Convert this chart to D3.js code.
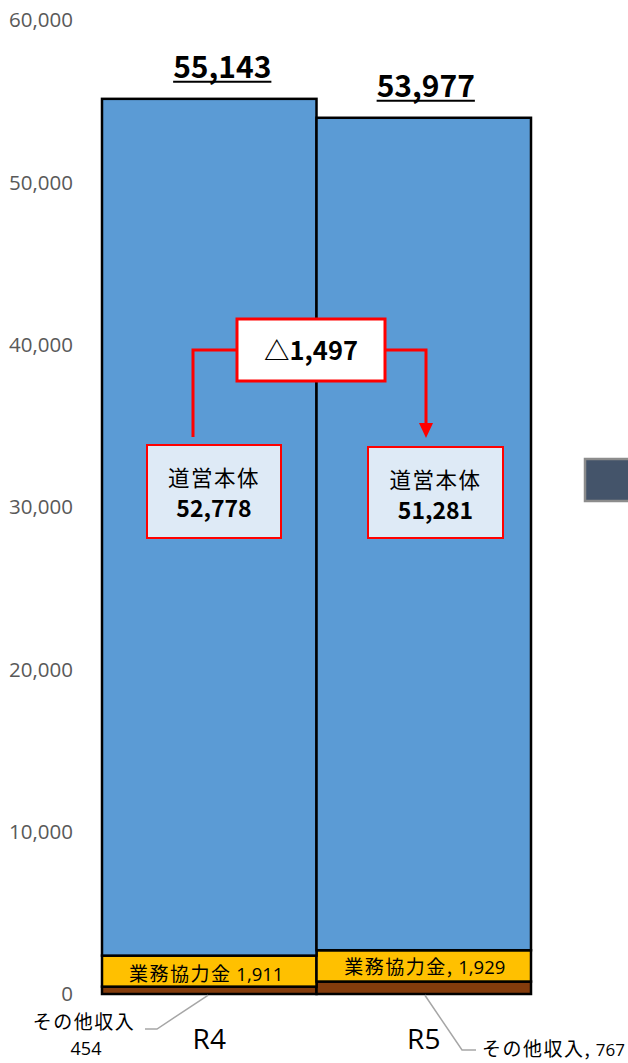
<!DOCTYPE html>
<html><head><meta charset="utf-8">
<script src="https://cdn.jsdelivr.net/npm/d3@7"></script>
<style>html,body{margin:0;padding:0;background:#fff;}svg{display:block;}</style>
</head><body>
<svg id="chart" width="628" height="1063"></svg>
<script>
const categories = ["R4", "R5"];
const otherIncome = [454, 767];
const cooperation = [1911, 1929];
const mainBody = [52778, 51281];
const totals = [55143, 53977];
const yTicks = [0, 10000, 20000, 30000, 40000, 50000, 60000];
const seriesKeys = ["other", "coop", "main"];
const seriesNames = ["その他収入", "業務協力金", "道営本体"];
const seriesColors = ["#843C0C", "#FFC000", "#5B9BD5"];
const deltaValue = -1497;

const svg = d3.select("#chart");
const fmt = d3.format(",");
const jp = "'Noto Sans CJK JP', 'Noto Sans', sans-serif";
const latin = "'Open Sans', 'Noto Sans', sans-serif";

const x = d3.scaleBand().domain(categories).range([102, 531]).padding(0);
const y = d3.scaleLinear().domain([0, 60000]).range([994, 20]);

// y tick labels
svg.append("g").selectAll("text").data(yTicks).join("text")
  .attr("x", 73).attr("y", d => y(d)).attr("dy", "0.35em")
  .attr("text-anchor", "end").attr("fill", "#595959")
  .style("font-family", latin).style("font-size", "20.5px")
  .text(d => fmt(d));

// stacked bars
const rows = categories.map((c, i) => ({cat: c, other: otherIncome[i], coop: cooperation[i], main: mainBody[i]}));
const stacked = d3.stack().keys(seriesKeys)(rows);
const layers = svg.append("g").selectAll("g").data(stacked).join("g")
  .attr("fill", (d, i) => seriesColors[i]);
layers.selectAll("rect").data(d => d).join("rect")
  .attr("x", d => x(d.data.cat)).attr("width", x.bandwidth())
  .attr("y", d => y(d[1])).attr("height", d => y(d[0]) - y(d[1]))
  .attr("stroke", "#000").attr("stroke-width", 2.5);

// total labels
categories.forEach((c, i) => {
  const cx = x(c) + x.bandwidth() / 2 + (i === 0 ? 13 : 2);
  const ty = y(totals[i]) - 21;
  const t = svg.append("text").attr("x", cx).attr("y", ty).attr("text-anchor", "middle")
    .style("font-family", jp).style("font-weight", "bold").style("font-size", "30px")
    .attr("fill", "#000").text(fmt(totals[i]));
  const w = t.node().getComputedTextLength();
  svg.append("line").attr("x1", cx - w / 2).attr("x2", cx + w / 2)
    .attr("y1", ty + 4).attr("y2", ty + 4).attr("stroke", "#000").attr("stroke-width", 2);
});

// category labels
svg.append("g").selectAll("text").data(categories).join("text")
  .attr("x", d => x(d) + x.bandwidth() / 2).attr("y", 1049).attr("text-anchor", "middle")
  .style("font-family", latin).style("font-size", "28px")
  .attr("fill", "#000").text(d => d);

// 業務協力金 labels inside gold segment
categories.forEach((c, i) => {
  const cy = (y(otherIncome[i]) + y(otherIncome[i] + cooperation[i])) / 2 + (i === 0 ? 4 : 2);
  const cx = x(c) + x.bandwidth() / 2 + (i === 0 ? -3 : 1);
  const t = svg.append("text").attr("x", cx).attr("y", cy).attr("dy", "0.36em")
    .attr("text-anchor", "middle").attr("fill", "#000").style("font-family", jp);
  t.append("tspan").style("font-size", "19px").style("letter-spacing", "1.5px").text(seriesNames[1] + (i === 0 ? "" : ","));
  t.append("tspan").style("font-size", "18.5px").style("font-family", latin).text(" " + fmt(cooperation[i]));
});

// その他収入 leaders and labels
const lead = svg.append("g").attr("fill", "none").attr("stroke", "#A6A6A6").attr("stroke-width", 1.5);
{
  const bx = x("R4") + x.bandwidth() / 2 - 1;
  lead.append("polyline").attr("points", `${bx},${y(0) + 1} 157,1029 145,1029`);
  svg.append("text").attr("x", 84).attr("y", 1022).attr("dy", "0.35em").attr("text-anchor", "middle")
    .style("font-family", jp).style("font-size", "19px").style("letter-spacing", "1.5px")
    .attr("fill", "#000").text(seriesNames[0]);
  svg.append("text").attr("x", 86).attr("y", 1049).attr("dy", "0.35em").attr("text-anchor", "middle")
    .style("font-family", latin).style("font-size", "18px").attr("fill", "#000").text(fmt(otherIncome[0]));
}
{
  const bx = x("R5") + x.bandwidth() / 2 + 1;
  lead.append("polyline").attr("points", `${bx},${y(0) + 1} 462,1050 476,1050`);
  const t = svg.append("text").attr("x", 482).attr("y", 1050).attr("dy", "0.35em")
    .style("font-family", jp).attr("fill", "#000");
  t.append("tspan").style("font-size", "19px").style("letter-spacing", "1.5px").text(seriesNames[0] + ",");
  t.append("tspan").style("font-size", "17px").style("font-family", latin).text(" " + fmt(otherIncome[1]));
}

// 道営本体 callout boxes
const boxes = [{x0: 147, x1: 281, y0: 445, y1: 538}, {x0: 368, x1: 503, y0: 447, y1: 538}];
categories.forEach((c, i) => {
  const b = boxes[i];
  svg.append("rect").attr("x", b.x0).attr("y", b.y0).attr("width", b.x1 - b.x0).attr("height", b.y1 - b.y0)
    .attr("fill", "#DEEAF6").attr("stroke", "#FF0000").attr("stroke-width", 2);
  const cx = (b.x0 + b.x1) / 2;
  svg.append("text").attr("x", cx).attr("y", b.y0 + 33).attr("dy", "0.35em").attr("text-anchor", "middle")
    .style("font-family", jp).style("font-size", "21.5px").style("letter-spacing", "1.5px")
    .attr("fill", "#000").text(seriesNames[2]);
  svg.append("text").attr("x", cx).attr("y", b.y0 + 64).attr("dy", "0.35em").attr("text-anchor", "middle")
    .style("font-family", jp).style("font-weight", "bold").style("font-size", "23px").attr("fill", "#000")
    .text(fmt(mainBody[i]));
});

// delta connectors
const red = svg.append("g").attr("fill", "none").attr("stroke", "#FF0000").attr("stroke-width", 3);
red.append("polyline").attr("points", "236,350 193,350 193,437");
red.append("polyline").attr("points", "386,350 426,350 426,424");
svg.append("path").attr("d", "M419,423 L433,423 L426,438 Z").attr("fill", "#FF0000");

// delta box
svg.append("rect").attr("x", 237).attr("y", 319).attr("width", 148).attr("height", 62)
  .attr("fill", "#fff").attr("stroke", "#FF0000").attr("stroke-width", 3);
svg.append("text").attr("x", 311).attr("y", 351).attr("dy", "0.36em").attr("text-anchor", "middle")
  .style("font-family", jp).style("font-weight", "bold").style("font-size", "25.5px").attr("fill", "#000")
  .text("△" + fmt(Math.abs(deltaValue)));

// partial shape at right edge
svg.append("rect").attr("x", 585).attr("y", 459).attr("width", 60).attr("height", 42)
  .attr("fill", "#44546A").attr("stroke", "#8C8C8C").attr("stroke-width", 2.5);
</script>
</body></html>
